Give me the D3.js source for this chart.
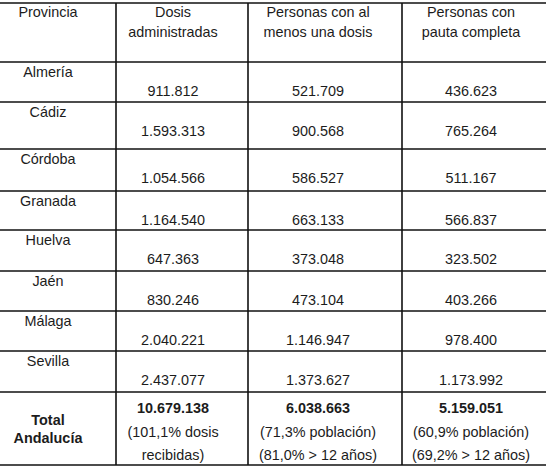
<!DOCTYPE html>
<html>
<head>
<meta charset="utf-8">
<script src="https://cdn.jsdelivr.net/npm/d3@7"></script>
<style>
  html, body { margin: 0; padding: 0; background: #fff; }
  svg { display: block; }
  text { font-family: "Liberation Sans", Arial, sans-serif; font-size: 14.4px; fill: #1c1c1c; }
</style>
</head>
<body>
<div id="chart"></div>
<script>
// datos de la tabla
const headers = [
  ['Provincia'],
  ['Dosis', 'administradas'],
  ['Personas con al', 'menos una dosis'],
  ['Personas con', 'pauta completa']
]
const provincias = ['Almería', 'Cádiz', 'Córdoba', 'Granada', 'Huelva', 'Jaén', 'Málaga', 'Sevilla']
const dosis = [911812, 1593313, 1054566, 1164540, 647363, 830246, 2040221, 2437077]
const unaDosis = [521709, 900568, 586527, 663133, 373048, 473104, 1146947, 1373627]
const pautaCompleta = [436623, 765264, 511167, 566837, 323502, 403266, 978400, 1173992]
const totalLabel = ['Total', 'Andalucía']
const totales = [10679138, 6038663, 5159051]
const pctDosis = 101.1
const pctPoblacion = [71.3, 60.9]
const pctMayores12 = [81.0, 69.2]

const width = 546, height = 476

// formato español: miles con punto, decimales con coma
const es = d3.formatLocale({ decimal: ',', thousands: '.', grouping: [3], currency: ['', ' €'] })
const fmtInt = es.format(',d')
const fmtPct = es.format('.1f')

// bordes de filas y columnas
const rowEdges = [3, 62, 102, 149, 191, 230, 271, 311, 351, 392, 465]
const colEdges = [116, 248, 402]
const colCenters = [48, 173, 318, 471]

const svg = d3.select('#chart').append('svg')
  .attr('width', width)
  .attr('height', height)

const x = d3.scaleOrdinal().domain([0, 1, 2, 3]).range(colCenters)
const rowTop = d3.scaleOrdinal().domain(d3.range(rowEdges.length)).range(rowEdges)

function drawGrid() {
  svg.append('g').selectAll('line')
    .data(rowEdges)
    .join('line')
    .attr('x1', 0).attr('x2', width)
    .attr('y1', d => d).attr('y2', d => d)
    .attr('stroke', '#111').attr('stroke-width', 1.6)

  svg.append('g').selectAll('line')
    .data(colEdges)
    .join('line')
    .attr('x1', d => d).attr('x2', d => d)
    .attr('y1', rowEdges[0]).attr('y2', rowEdges[rowEdges.length - 1])
    .attr('stroke', '#111').attr('stroke-width', 1.6)
}

function drawHeader() {
  const g = svg.append('g')
  headers.forEach((lines, ci) => {
    lines.forEach((t, li) => {
      g.append('text')
        .attr('x', x(ci))
        .attr('y', rowTop(0) + 14 + li * 20)
        .attr('text-anchor', 'middle')
        .text(t)
    })
  })
}

function drawRows() {
  const rows = provincias.map((p, i) => ({ p, vals: [dosis[i], unaDosis[i], pautaCompleta[i]], i }))
  const g = svg.append('g').selectAll('g.row')
    .data(rows)
    .join('g')
    .attr('class', 'row')
    .attr('transform', d => `translate(0,${rowTop(d.i + 1)})`)

  g.append('text')
    .attr('x', x(0))
    .attr('y', 14.5)
    .attr('text-anchor', 'middle')
    .text(d => d.p)

  g.selectAll('text.num')
    .data(d => d.vals)
    .join('text')
    .attr('class', 'num')
    .attr('x', (d, j) => x(j + 1))
    .attr('y', 33.5)
    .attr('text-anchor', 'middle')
    .text(d => fmtInt(d))
}

function drawTotal() {
  const top = rowTop(provincias.length + 1)
  const g = svg.append('g').attr('transform', `translate(0,${top})`)

  totalLabel.forEach((t, li) => {
    g.append('text')
      .attr('x', x(0))
      .attr('y', 33 + li * 18)
      .attr('text-anchor', 'middle')
      .attr('font-weight', 'bold')
      .text(t)
  })

  totales.forEach((v, j) => {
    g.append('text')
      .attr('x', x(j + 1))
      .attr('y', 21)
      .attr('text-anchor', 'middle')
      .attr('font-weight', 'bold')
      .text(fmtInt(v))
  })

  const notas = [
    [`(${fmtPct(pctDosis)}% dosis`, 'recibidas)'],
    [`(${fmtPct(pctPoblacion[0])}% población)`, `(${fmtPct(pctMayores12[0])}% > 12 años)`],
    [`(${fmtPct(pctPoblacion[1])}% población)`, `(${fmtPct(pctMayores12[1])}% > 12 años)`]
  ]
  notas.forEach((lines, j) => {
    lines.forEach((t, li) => {
      g.append('text')
        .attr('x', x(j + 1))
        .attr('y', 45 + li * 22.5)
        .attr('text-anchor', 'middle')
        .text(t)
    })
  })
}

drawGrid()
drawHeader()
drawRows()
drawTotal()
</script>
</body>
</html>
